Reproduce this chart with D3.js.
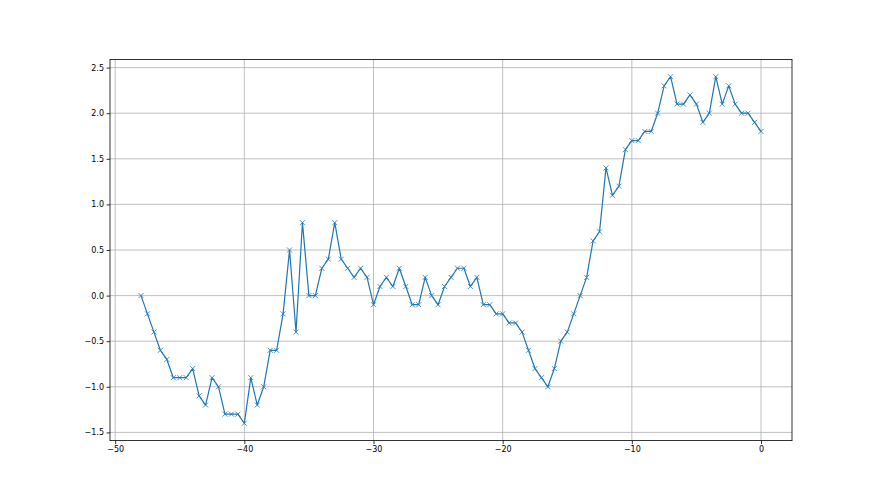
<!DOCTYPE html>
<html>
<head>
<meta charset="utf-8">
<script src="https://cdn.jsdelivr.net/npm/d3@7"></script>
<style>
  html, body { margin: 0; padding: 0; background: #ffffff; }
  svg { display: block; }
  text { font-family: "DejaVu Sans", sans-serif; }
</style>
</head>
<body>
<script>
// ---- data ----
const xStart = -48;
const xStep = 0.5;
const values = [
  0.0, -0.2, -0.4, -0.6, -0.7, -0.9, -0.9, -0.9, -0.8, -1.1,
  -1.2, -0.9, -1.0, -1.3, -1.3, -1.3, -1.4, -0.9, -1.2, -1.0,
  -0.6, -0.6, -0.2, 0.5, -0.4, 0.8, 0.0, 0.0, 0.3, 0.4,
  0.8, 0.4, 0.3, 0.2, 0.3, 0.2, -0.1, 0.1, 0.2, 0.1,
  0.3, 0.1, -0.1, -0.1, 0.2, 0.0, -0.1, 0.1, 0.2, 0.3,
  0.3, 0.1, 0.2, -0.1, -0.1, -0.2, -0.2, -0.3, -0.3, -0.4,
  -0.6, -0.8, -0.9, -1.0, -0.8, -0.5, -0.4, -0.2, 0.0, 0.2,
  0.6, 0.7, 1.4, 1.1, 1.2, 1.6, 1.7, 1.7, 1.8, 1.8,
  2.0, 2.3, 2.4, 2.1, 2.1, 2.2, 2.1, 1.9, 2.0, 2.4,
  2.1, 2.3, 2.1, 2.0, 2.0, 1.9, 1.8
];
const xValues = values.map((v, i) => xStart + i * xStep);
const xTicks = [-50, -40, -30, -20, -10, 0];
const yTicks = [-1.5, -1.0, -0.5, 0.0, 0.5, 1.0, 1.5, 2.0, 2.5];

(function () {
  // ---- layout ----
  const W = 880, H = 495;
  const pl = 110, pr = 792, pt = 59.4, pb = 440.6;
  const color = "#1f77b4";

  const svg = d3.select("body").append("svg").attr("width", W).attr("height", H);

  const xMin = d3.min(xValues), xMax = d3.max(xValues);
  const yMin = d3.min(values), yMax = d3.max(values);
  const xPad = (xMax - xMin) * 0.05, yPad = (yMax - yMin) * 0.05;

  const x = d3.scaleLinear().domain([xMin - xPad, xMax + xPad]).range([pl, pr]);
  const y = d3.scaleLinear().domain([yMin - yPad, yMax + yPad]).range([pb, pt]);

  const fmtMinus = s => s.replace(/^-/, "\u2212");

  // grid
  const grid = svg.append("g");
  grid.selectAll("line.gx").data(xTicks).enter().append("line")
    .attr("x1", d => x(d)).attr("x2", d => x(d))
    .attr("y1", pt).attr("y2", pb)
    .attr("stroke", "#b0b0b0").attr("stroke-width", 0.8);
  grid.selectAll("line.gy").data(yTicks).enter().append("line")
    .attr("x1", pl).attr("x2", pr)
    .attr("y1", d => y(d)).attr("y2", d => y(d))
    .attr("stroke", "#b0b0b0").attr("stroke-width", 0.8);

  // line
  const pts = values.map((v, i) => [xValues[i], v]);
  svg.append("path")
    .datum(pts)
    .attr("fill", "none")
    .attr("stroke", color)
    .attr("stroke-width", 1.2)
    .attr("stroke-linejoin", "round")
    .attr("d", d3.line().x(d => x(d[0])).y(d => y(d[1])));

  // markers 'x'
  const m = 2.5;
  const mk = svg.append("g").attr("stroke", color).attr("stroke-width", 0.8);
  mk.selectAll("path").data(pts).enter().append("path")
    .attr("d", d => {
      const cx = x(d[0]), cy = y(d[1]);
      return `M${cx - m},${cy - m}L${cx + m},${cy + m}M${cx - m},${cy + m}L${cx + m},${cy - m}`;
    });

  // axes
  const xAxis = d3.axisBottom(x).tickValues(xTicks).tickSize(3.5).tickPadding(2.5)
    .tickFormat(d => fmtMinus(d3.format("d")(d)));
  const yAxis = d3.axisLeft(y).tickValues(yTicks).tickSize(3.5).tickPadding(2.5)
    .tickFormat(d => fmtMinus(d3.format(".1f")(d)));

  const gx = svg.append("g").attr("transform", `translate(0,${pb})`).call(xAxis);
  const gy = svg.append("g").attr("transform", `translate(${pl},0)`).call(yAxis);
  [gx, gy].forEach(g => {
    g.select(".domain").remove();
    g.selectAll(".tick line").attr("stroke", "#000").attr("stroke-width", 0.8);
    g.selectAll(".tick text").attr("fill", "#000").style("font-size", "8px")
      .style("font-family", "'DejaVu Sans', sans-serif");
  });

  // spines
  svg.append("rect")
    .attr("x", pl).attr("y", pt)
    .attr("width", pr - pl).attr("height", pb - pt)
    .attr("fill", "none").attr("stroke", "#000").attr("stroke-width", 0.8);
})();
</script>
</body>
</html>
